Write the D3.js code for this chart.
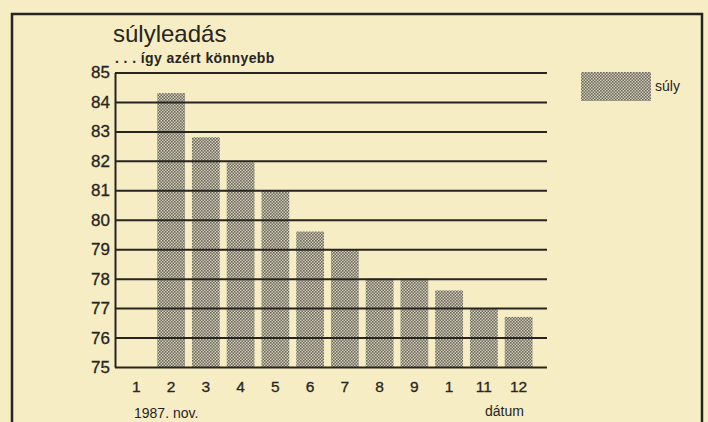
<!DOCTYPE html>
<html>
<head>
<meta charset="utf-8">
<script src="https://cdn.jsdelivr.net/npm/d3@7"></script>
<style>
  html, body { margin: 0; padding: 0; background: #f6edc4; }
  svg { display: block; }
  text { font-family: "Liberation Sans", Arial, Helvetica, sans-serif; fill: #26251f; }
</style>
</head>
<body>
<svg id="chart" width="708" height="422"></svg>
<script>
// ---- data ----
const days = [1, 2, 3, 4, 5, 6, 7, 8, 9, 10, 11, 12];
const dayLabels = ["1", "2", "3", "4", "5", "6", "7", "8", "9", "1", "11", "12"];
const weights = [null, 84.3, 82.8, 81.95, 81.0, 79.6, 79.0, 78.0, 78.0, 77.6, 77.0, 76.7];
const yTicks = [75, 76, 77, 78, 79, 80, 81, 82, 83, 84, 85];
const titleText = "súlyleadás";
const subtitleText = ". . . így azért könnyebb";
const seriesName = "súly";
const xNote = "1987. nov.";
const xTitle = "dátum";

const svg = d3.select("#chart");
const ink = "#26251f";

// pattern (dotted screen)
const defs = svg.append("defs");
const pat = defs.append("pattern").attr("id", "dots")
  .attr("patternUnits", "userSpaceOnUse").attr("width", 3).attr("height", 3);
pat.append("rect").attr("width", 3).attr("height", 3).attr("fill", "#d6d0b6");
pat.append("rect").attr("x", 0).attr("y", 0).attr("width", 1.6).attr("height", 1.6).attr("fill", "#6b6860");
pat.append("rect").attr("x", 1.5).attr("y", 1.5).attr("width", 1.6).attr("height", 1.6).attr("fill", "#6b6860");

// frame
svg.append("path")
  .attr("d", "M12,430 L12,14 L702,14 L702,430")
  .attr("fill", "none").attr("stroke", ink).attr("stroke-width", 2.5);

const x = d3.scaleBand().domain(days).range([119, 536]).paddingInner(0.2).paddingOuter(0.1);
const y = d3.scaleLinear().domain([75, 85]).range([367, 72.5]);
const axisX = 115, gridEnd = 547;

// bars
const data = days.map((d, i) => ({ day: d, v: weights[i] })).filter(d => d.v != null);
svg.append("g").selectAll("rect").data(data).join("rect")
  .attr("x", d => x(d.day))
  .attr("width", x.bandwidth())
  .attr("y", d => y(d.v))
  .attr("height", d => y(75) - y(d.v))
  .attr("fill", "url(#dots)");

// y axis with gridlines
const yAxis = d3.axisLeft(y).tickValues(yTicks).tickFormat(d3.format("d"))
  .tickSize(-(gridEnd - axisX)).tickSizeOuter(0).tickPadding(5);
const gy = svg.append("g").attr("transform", `translate(${axisX},0)`).call(yAxis);
gy.select(".domain").attr("stroke", ink).attr("stroke-width", 2);
gy.selectAll(".tick line").attr("stroke", ink).attr("stroke-width", 2);
gy.selectAll(".tick text").attr("font-size", 17).attr("fill", ink)
  .attr("font-family", "'Liberation Sans', Arial, sans-serif")
  .attr("stroke", ink).attr("stroke-width", 0.3);

// x axis labels
const xAxis = d3.axisBottom(x).tickFormat((d, i) => dayLabels[i]).tickSize(0).tickPadding(14);
const gx = svg.append("g").attr("transform", `translate(0,${y(75)})`).call(xAxis);
gx.select(".domain").remove();
gx.selectAll(".tick text").attr("font-size", 15.5).attr("fill", ink)
  .attr("font-family", "'Liberation Sans', Arial, sans-serif")
  .attr("stroke", ink).attr("stroke-width", 0.3);

// titles
svg.append("text").attr("x", 113).attr("y", 42).attr("font-size", 24).text(titleText);
svg.append("text").attr("x", 115).attr("y", 63).attr("font-size", 14).attr("font-weight", "bold")
  .attr("letter-spacing", 0.4).text(subtitleText);
svg.append("text").attr("x", 134).attr("y", 418).attr("font-size", 14).text(xNote);
svg.append("text").attr("x", 485).attr("y", 416).attr("font-size", 14).text(xTitle);

// legend
svg.append("rect").attr("x", 581).attr("y", 72).attr("width", 70).attr("height", 29).attr("fill", "url(#dots)");
svg.append("text").attr("x", 655).attr("y", 91).attr("font-size", 14).text(seriesName);
</script>
</body>
</html>
